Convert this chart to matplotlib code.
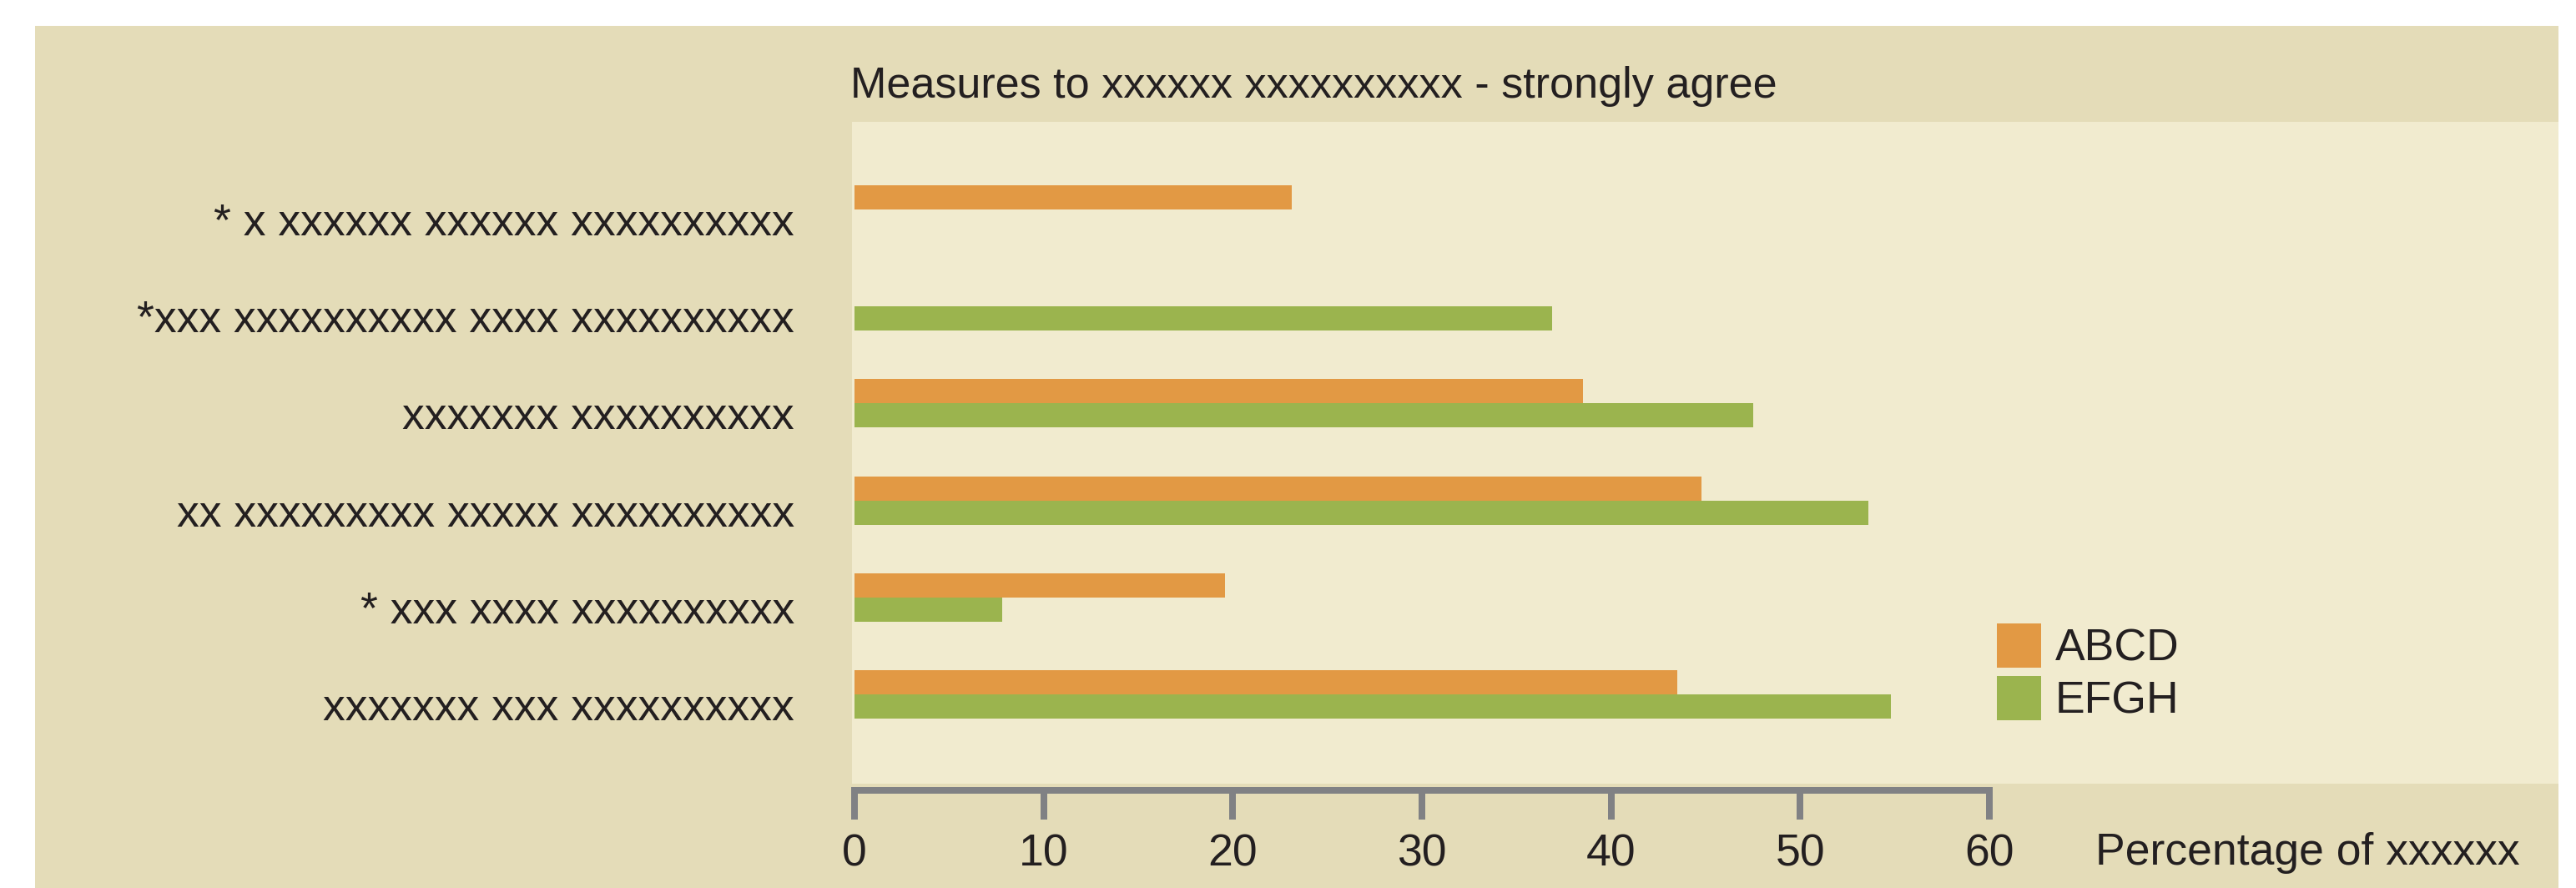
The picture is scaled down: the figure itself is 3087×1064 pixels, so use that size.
import numpy as np
import matplotlib
matplotlib.use('Agg')
import matplotlib.pyplot as plt
from matplotlib.patches import Rectangle
from matplotlib.transforms import ScaledTranslation

# dane ------------------------------------------------------------------
kategorie = ['* x xxxxxx xxxxxx xxxxxxxxxx',
             '*xxx xxxxxxxxxx xxxx xxxxxxxxxx',
             'xxxxxxx xxxxxxxxxx',
             'xx xxxxxxxxx xxxxx xxxxxxxxxx',
             '* xxx xxxx xxxxxxxxxx',
             'xxxxxxx xxx xxxxxxxxxx']
abcd = [23.1, np.nan, 38.5, 44.8, 19.6, 43.5]
efgh = [np.nan, 36.9, 47.5, 53.6, 7.8, 54.8]
serie = ['ABCD', 'EFGH']
x_ticks = [0, 10, 20, 30, 40, 50, 60]
tytul = 'Measures to xxxxxx xxxxxxxxxx - strongly agree'
opis_x = 'Percentage of xxxxxx'

# kolory / rozmiary -----------------------------------------------------
W, H = 3087, 1064
c_panel = '#E4DCB8'
c_plot = '#F1EBCF'
c_orange = '#E29944'
c_green = '#9BB44E'
c_axis = '#808184'
c_text = '#231F20'

plt.rcParams['font.family'] = ['Liberation Sans', 'DejaVu Sans']

fig = plt.figure(figsize=(W / 100, H / 100), dpi=100, facecolor='white')

# tło panelu
fig.add_artist(Rectangle((42 / W, 0), (3066 - 42) / W, (1064 - 31) / H,
                         transform=fig.transFigure, facecolor=c_panel,
                         edgecolor='none', zorder=0))

ax = fig.add_axes([1021 / W, (H - 939) / H, (3066 - 1021) / W, (939 - 146) / H])
ax.set_facecolor(c_plot)

y = np.arange(len(kategorie))
h = 0.25
b1 = ax.barh(y - h / 2, abcd, height=h, color=c_orange, label=serie[0])
b2 = ax.barh(y + h / 2, efgh, height=h, color=c_green, label=serie[1])

px = 22.667  # pikseli na jednostkę
ax.set_xlim((1021 - 1024) / px, (3066 - 1024) / px)
ax.set_ylim(5 + (939 - 832) / 116.2, -(251 - 146) / 116.2)

for s in ['top', 'right', 'left']:
    ax.spines[s].set_visible(False)
sp = ax.spines['bottom']
sp.set_color(c_axis)
sp.set_linewidth(5.76)
sp.set_bounds(0, 60)
sp.set_position(('outward', 5.5))
sp.set_capstyle('projecting')

ax.set_xticks(x_ticks)
ax.tick_params(axis='x', direction='out', length=25, width=5.76,
               color=c_axis, labelsize=38.5, labelcolor=c_text, pad=12)
ax.set_yticks([])

# etykiety kategorii
off = ScaledTranslation(0, -0.31, fig.dpi_scale_trans)
for i, k in enumerate(kategorie):
    ax.text(-69 / 2045, y[i], k, transform=ax.get_yaxis_transform() + off,
            ha='right', va='baseline', fontsize=38.5, color=c_text)

fig.text(1019 / W, 1 - 117 / H, tytul, ha='left', va='baseline',
         fontsize=37.5, color=c_text)
fig.text(2511 / W, 1 - 1036 / H, opis_x, ha='left', va='baseline',
         fontsize=38.5, color=c_text)

ax.legend(handles=[b1, b2], loc='upper left',
          bbox_to_anchor=(2393 / W, 1 - 746.7 / H), bbox_transform=fig.transFigure,
          frameon=False, borderpad=0, borderaxespad=0, handlelength=1.0,
          handleheight=1.146, handletextpad=0.3, labelspacing=0.15,
          fontsize=38.5, labelcolor=c_text)

fig.savefig('out.png', dpi=100, facecolor='white')
